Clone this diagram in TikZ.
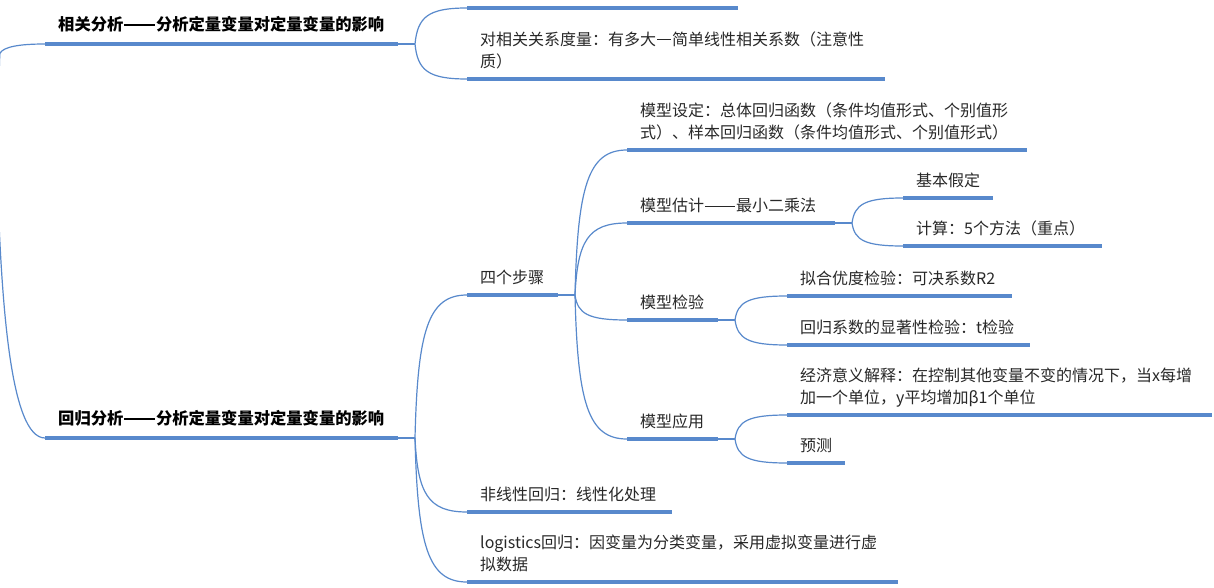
\documentclass[tikz,border=0pt]{standalone}
\usepackage{fontspec}
\setmainfont{Noto Sans CJK SC}
\usetikzlibrary{calc}
\definecolor{mmblue}{RGB}{88,137,204}
\definecolor{mmtext}{RGB}{40,40,40}
% full-width dash: width, thickness
\newcommand\mmdash[2]{\kern0.06em\leaders\hrule height \dimexpr0.36em+#2/2\relax depth \dimexpr-0.36em+#2/2\relax\hskip\dimexpr#1-0.12em\relax\kern0.06em}
\tikzset{
  uline/.style={draw=mmblue, line width=3.6pt},
  conn/.style={draw=mmblue, line width=1.2pt},
  toptext/.style={anchor=south west, inner sep=0pt, text depth=0pt, yshift=2pt,
    font=\fontsize{16.3}{22.5}\selectfont\bfseries, text=black, align=left},
  subtext/.style={anchor=south west, inner sep=0pt, text depth=0pt,
    font=\fontsize{16}{22.5}\selectfont, text=mmtext, align=left},
}
% name, x1, x2, y, style, text
\newcommand\mmtopic[6]{%
  \coordinate (#1-w) at (#2,#4);
  \coordinate (#1-e) at (#3,#4);
  \draw[uline] (#1-w) -- (#1-e);
  \node[#5] (#1) at ($(#2,#4)+(13,-11)$) {#6};
}
\newcommand\mmbranch[2]{%
  \draw[conn] let \p1=(#1), \p2=(#2) in (\p1) .. controls ({\x1+0.05*(\x2-\x1)},{\y1+0.75*(\y2-\y1)}) and ({\x1+0.25*(\x2-\x1)},\y2) .. (\p2);
}
\begin{document}
\begin{tikzpicture}[x=1pt,y=-1pt]
\useasboundingbox (0,0) rectangle (1214,588);
\clip (0,0) rectangle (1214,588);
\fill[white] (0,0) rectangle (1214,588);

% main topics
\mmtopic{A}{45}{398}{44}{toptext}{相关分析\mmdash{2em}{2.4pt}分析定量变量对定量变量的影响}
\mmtopic{B}{45}{398}{438}{toptext}{回归分析\mmdash{2em}{2.4pt}分析定量变量对定量变量的影响}

% root (off the picture, to the left)
\coordinate (root) at (-2,200);
\draw[conn] (root) .. controls (-1,100) and (-1,62) .. (0,53) .. controls (4,47) and (18,44) .. (A-w);
\draw[conn] (root) .. controls (2,300) and (10,438) .. (B-w);

% children of A
\mmtopic{A1}{467}{738}{8}{subtext}{}
\mmtopic{A2}{467}{885}{79}{subtext}{对相关关系度量：有多大\mmdash{1em}{0.9pt}简单线性相关系数（注意性\\质）}
\coordinate (A-b) at (415,44);
\draw[conn] (A-e) -- (A-b);
\mmbranch{A-b}{A1-w}
\mmbranch{A-b}{A2-w}

% children of B
\mmtopic{B1}{467}{558}{295}{subtext}{四个步骤}
\mmtopic{B2}{467}{672}{512}{subtext}{非线性回归：线性化处理}
\mmtopic{B3}{467}{898}{582}{subtext}{logistics回归：因变量为分类变量，采用虚拟变量进行虚\\拟数据}
\coordinate (B-b) at (415,438);
\draw[conn] (B-e) -- (B-b);
\mmbranch{B-b}{B1-w}
\mmbranch{B-b}{B2-w}
\mmbranch{B-b}{B3-w}

% four steps
\mmtopic{S1}{627}{1027}{150}{subtext}{模型设定：总体回归函数（条件均值形式、个别值形\\式）、样本回归函数（条件均值形式、个别值形式）}
\mmtopic{S2}{627}{835}{223}{subtext}{模型估计\mmdash{2em}{0.9pt}最小二乘法}
\mmtopic{S3}{627}{718}{320}{subtext}{模型检验}
\mmtopic{S4}{627}{718}{439}{subtext}{模型应用}
\coordinate (B1-b) at (575,295);
\draw[conn] (B1-e) -- (B1-b);
\mmbranch{B1-b}{S1-w}
\mmbranch{B1-b}{S2-w}
\mmbranch{B1-b}{S3-w}
\mmbranch{B1-b}{S4-w}

% estimation
\mmtopic{S2a}{903}{993}{198}{subtext}{基本假定}
\mmtopic{S2b}{903}{1102}{246}{subtext}{计算：5个方法（重点）}
\coordinate (S2-b) at (852,223);
\draw[conn] (S2-e) -- (S2-b);
\mmbranch{S2-b}{S2a-w}
\mmbranch{S2-b}{S2b-w}

% testing
\mmtopic{S3a}{787}{1012}{296}{subtext}{拟合优度检验：可决系数R2}
\mmtopic{S3b}{787}{1030}{345}{subtext}{回归系数的显著性检验：t检验}
\coordinate (S3-b) at (735,320);
\draw[conn] (S3-e) -- (S3-b);
\mmbranch{S3-b}{S3a-w}
\mmbranch{S3-b}{S3b-w}

% application
\mmtopic{S4a}{787}{1212}{415}{subtext}{经济意义解释：在控制其他变量不变的情况下，当x每增\\加一个单位，y平均增加β1个单位}
\mmtopic{S4b}{787}{845}{463}{subtext}{预测}
\coordinate (S4-b) at (735,439);
\draw[conn] (S4-e) -- (S4-b);
\mmbranch{S4-b}{S4a-w}
\mmbranch{S4-b}{S4b-w}
\end{tikzpicture}
\end{document}
